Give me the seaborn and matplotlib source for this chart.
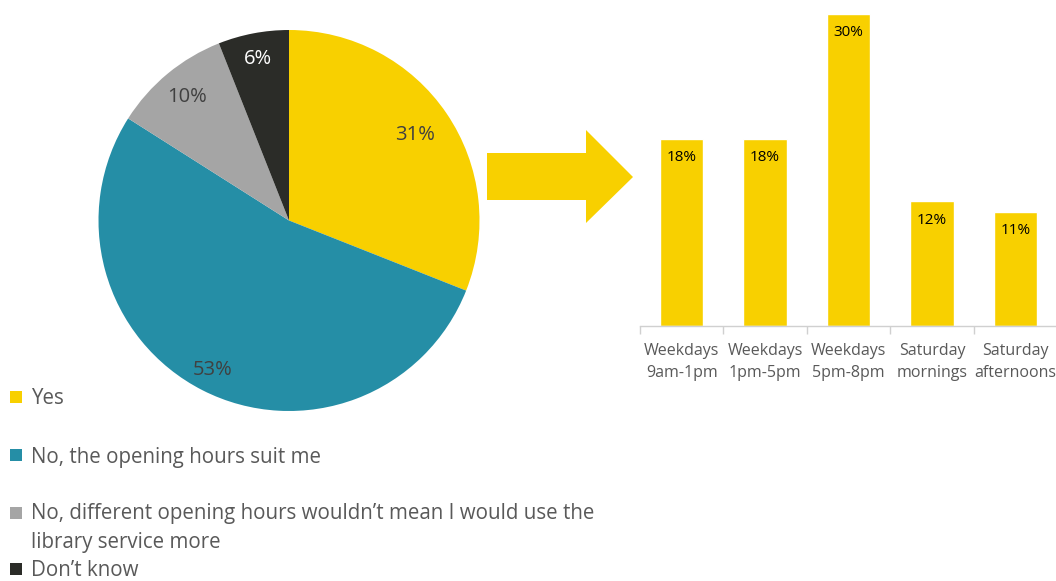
import matplotlib
matplotlib.use("Agg")
import matplotlib.pyplot as plt
from matplotlib.patches import Polygon, Rectangle
import numpy as np
import seaborn as sns
import pandas as pd

sns.set_theme(style="white")
plt.rcParams["font.family"] = ["Open Sans", "DejaVu Sans"]

# Survey answers: would different opening hours make you use the library more?
answers = ["Yes", "No, the opening hours suit me",
           "No, different opening hours wouldn\u2019t mean I would use the\nlibrary service more",
           "Don\u2019t know"]
answer_shares = [31, 53, 10, 6]
answer_colors = ["#F8D000", "#258EA6", "#A5A5A5", "#2B2C28"]
pct_colors = ["#404040", "#404040", "#404040", "#FFFFFF"]
pct_radius = [0.80, 0.88, 0.84, 0.865]

# Preferred extra opening times among those answering "Yes"
slots = ["Weekdays\n9am-1pm", "Weekdays\n1pm-5pm", "Weekdays\n5pm-8pm",
         "Saturday\nmornings", "Saturday\nafternoons"]
slot_shares = [18, 18, 30, 12, 11]

W, H = 1056, 581
fig = plt.figure(figsize=(W / 100, H / 100), dpi=100)

def fx(px):
    return px / W

def fy(py):
    return 1 - py / H

# ---- pie ----
ax_pie = fig.add_axes([fx(98), fy(411), fx(480) - fx(98), fy(30) - fy(411)])
wedges, _ = ax_pie.pie(
    answer_shares, colors=answer_colors, startangle=90, counterclock=False,
    wedgeprops=dict(linewidth=0))
for w, v, c, r in zip(wedges, answer_shares, pct_colors, pct_radius):
    mid = np.deg2rad((w.theta1 + w.theta2) / 2)
    ax_pie.text(r * np.cos(mid), r * np.sin(mid), f"{v}%", ha="center",
                va="center", fontsize=14.5, color=c)
ax_pie.set_xlim(-1, 1)
ax_pie.set_ylim(-1, 1)
ax_pie.set_aspect("equal")
ax_pie.axis("off")

# ---- legend for the pie ----
legend_rows = [397, 455, 513, 569]
for label, color, row in zip(answers, answer_colors, legend_rows):
    fig.patches.append(Rectangle((fx(10), fy(row + 6)), fx(12), fy(row - 6) - fy(row + 6),
                                 transform=fig.transFigure, color=color, lw=0))
    if "\n" in label:
        fig.text(fx(31), fy(row - 10), label, fontsize=14.8, color="#595959",
                 va="top", ha="left", linespacing=1.5)
    else:
        fig.text(fx(31), fy(row + 2), label, fontsize=14.8, color="#595959",
                 va="center", ha="left")

# ---- arrow ----
arrow_px = [(487, 153), (586, 153), (586, 130), (633, 177),
            (586, 223), (586, 200), (487, 200)]
fig.patches.append(Polygon([(fx(x), fy(y)) for x, y in arrow_px], closed=True,
                           transform=fig.transFigure, color="#F8D000", lw=0))

# ---- bars ----
ax_bar = fig.add_axes([fx(640), fy(326), fx(1057) - fx(640), fy(14) - fy(326)])
df = pd.DataFrame({"slot": slots, "share": slot_shares})
sns.barplot(data=df, x="slot", y="share", color="#F8D000", saturation=1,
            width=0.52, ax=ax_bar)
ax_bar.set_ylim(0, 30)
ax_bar.set_xlim(-0.5, len(slots) - 0.5)
for bar, v in zip(ax_bar.patches, slot_shares):
    ax_bar.annotate(f"{v}%", (bar.get_x() + bar.get_width() / 2, v),
                    xytext=(0, -19), textcoords="offset pixels",
                    ha="center", va="center", fontsize=11, color="#000000")
ax_bar.set_xlabel("")
ax_bar.set_ylabel("")
ax_bar.set_yticks([])
for side in ["top", "right", "left"]:
    ax_bar.spines[side].set_visible(False)
ax_bar.spines["bottom"].set_color("#D0D0D0")
ax_bar.spines["bottom"].set_linewidth(1)
ax_bar.set_xticks(range(len(slots)))
ax_bar.set_xticklabels(slots, fontsize=11.5, color="#595959", linespacing=1.55)
ax_bar.tick_params(axis="x", which="major", length=0, pad=12)
# category separators below the axis line
ax_bar.set_xticks([i - 0.5 for i in range(len(slots) + 1)], minor=True)
ax_bar.tick_params(axis="x", which="minor", bottom=True, length=6, color="#D0D0D0",
                   width=1, direction="out")
ax_bar.patch.set_alpha(0)

fig.savefig("out.png", dpi=100)
